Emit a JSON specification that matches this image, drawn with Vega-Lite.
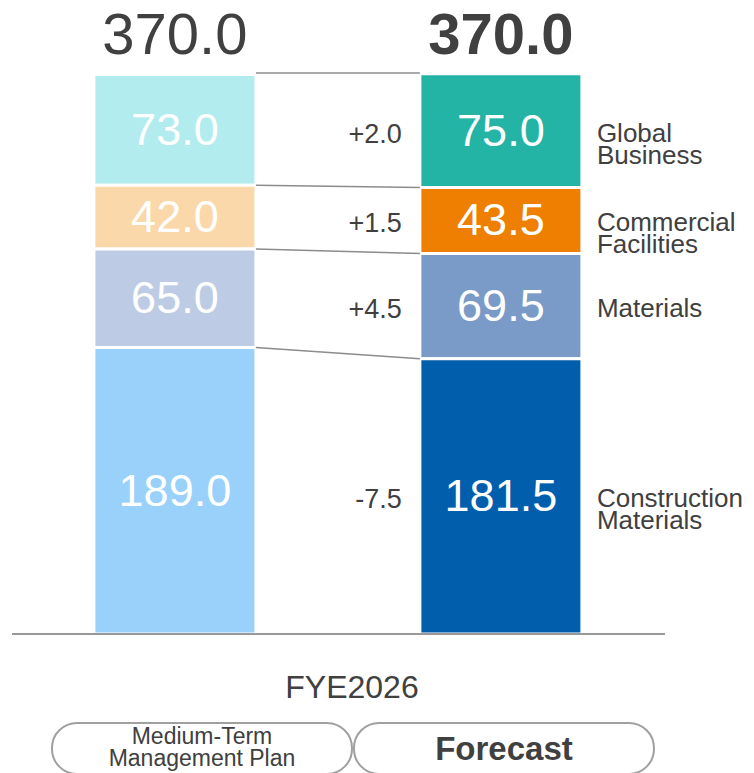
{
  "$schema": "https://vega.github.io/schema/vega-lite/v6.json",
  "width": 754,
  "height": 773,
  "autosize": {"type": "none"},
  "padding": 0,
  "background": "white",
  "config": {"view": {"stroke": null}, "axis": {"disable": true}},
  "datasets": {
    "segs": [
      {"bar": "Plan", "category": "Global Business", "value": 73.0, "order": 4},
      {"bar": "Plan", "category": "Commercial Facilities", "value": 42.0, "order": 3},
      {"bar": "Plan", "category": "Materials", "value": 65.0, "order": 2},
      {"bar": "Plan", "category": "Construction Materials", "value": 189.0, "order": 1},
      {"bar": "Forecast", "category": "Global Business", "value": 75.0, "order": 4, "diff": "+2.0", "label": "Global\nBusiness"},
      {"bar": "Forecast", "category": "Commercial Facilities", "value": 43.5, "order": 3, "diff": "+1.5", "label": "Commercial\nFacilities"},
      {"bar": "Forecast", "category": "Materials", "value": 69.5, "order": 2, "diff": "+4.5", "label": "Materials"},
      {"bar": "Forecast", "category": "Construction Materials", "value": 181.5, "order": 1, "diff": "-7.5", "label": "Construction\nMaterials"}
    ],
    "totals": [
      {"bar": "Plan", "total": 370.0},
      {"bar": "Forecast", "total": 370.0}
    ],
    "links": [
      {"category": "Global Business", "plan_top": 370.0, "forecast_top": 370.0},
      {"category": "Commercial Facilities", "plan_top": 296.0, "forecast_top": 294.5},
      {"category": "Materials", "plan_top": 254.0, "forecast_top": 251.0},
      {"category": "Construction Materials", "plan_top": 189.0, "forecast_top": 181.5}
    ],
    "pills": [
      {"bar": "Plan", "name": "Medium-Term\nManagement Plan"},
      {"bar": "Forecast", "name": "Forecast"}
    ],
    "period": [{"label": "FYE2026"}]
  },
  "layer": [
    {
      "data": {"name": "segs"},
      "transform": [
        {"calculate": "datum.bar + '|' + datum.category", "as": "key"},
        {"stack": "value", "groupby": ["bar"], "sort": [{"field": "order", "order": "ascending"}], "as": ["v0", "v1"]},
        {"calculate": "(datum.v0 + datum.v1) / 2", "as": "mid"}
      ],
      "layer": [
        {
          "mark": {"type": "rect", "stroke": "white", "strokeWidth": 3},
          "encoding": {
            "x": {"field": "bar", "type": "nominal", "scale": {"type": "band", "domain": ["Plan", "Forecast"], "paddingInner": 0.503, "paddingOuter": 0.408, "align": 0.353, "round": false}},
            "y": {"field": "v0", "type": "quantitative", "scale": {"domain": [-91.68, 418.15], "nice": false, "zero": false}},
            "y2": {"field": "v1"},
            "color": {
              "field": "key", "type": "nominal", "legend": null,
              "scale": {
                "domain": ["Plan|Global Business", "Plan|Commercial Facilities", "Plan|Materials", "Plan|Construction Materials", "Forecast|Global Business", "Forecast|Commercial Facilities", "Forecast|Materials", "Forecast|Construction Materials"],
                "range": ["#b2ecee", "#fbd8aa", "#bdcce4", "#99d1fb", "#24b4a6", "#ef7f00", "#7a9bc8", "#015eac"]
              }
            }
          }
        },
        {
          "mark": {"type": "text", "font": "Liberation Sans", "fontSize": 45, "color": "white", "align": "center", "baseline": "middle", "dy": 1},
          "encoding": {
            "x": {"field": "bar", "type": "nominal", "scale": {"type": "band", "domain": ["Plan", "Forecast"], "paddingInner": 0.503, "paddingOuter": 0.408, "align": 0.353, "round": false}},
            "y": {"field": "mid", "type": "quantitative", "scale": {"domain": [-91.68, 418.15], "nice": false, "zero": false}},
            "text": {"field": "value", "type": "quantitative", "format": ".1f"}
          }
        },
        {
          "transform": [{"filter": "datum.bar === 'Forecast'"}],
          "mark": {"type": "text", "font": "Liberation Sans", "fontSize": 27, "color": "#404040", "align": "right", "baseline": "middle", "dx": -18, "dy": 4},
          "encoding": {
            "x": {"field": "bar", "type": "nominal", "bandPosition": 0, "scale": {"type": "band", "domain": ["Plan", "Forecast"], "paddingInner": 0.503, "paddingOuter": 0.408, "align": 0.353, "round": false}},
            "y": {"field": "mid", "type": "quantitative", "scale": {"domain": [-91.68, 418.15], "nice": false, "zero": false}},
            "text": {"field": "diff", "type": "nominal"}
          }
        },
        {
          "transform": [{"filter": "datum.bar === 'Forecast'"}],
          "mark": {"type": "text", "font": "Liberation Sans", "fontSize": 26, "lineHeight": 22, "lineBreak": "\n", "color": "#404040", "align": "left", "baseline": "middle", "dx": 15, "dy": 3},
          "encoding": {
            "x": {"field": "bar", "type": "nominal", "bandPosition": 1, "scale": {"type": "band", "domain": ["Plan", "Forecast"], "paddingInner": 0.503, "paddingOuter": 0.408, "align": 0.353, "round": false}},
            "y": {"field": "mid", "type": "quantitative", "scale": {"domain": [-91.68, 418.15], "nice": false, "zero": false}},
            "text": {"field": "label", "type": "nominal"}
          }
        }
      ]
    },
    {
      "data": {"name": "links"},
      "mark": {"type": "rule", "color": "#8c8c8c", "strokeWidth": 1.5},
      "encoding": {
        "x": {"datum": "Plan", "type": "nominal", "bandPosition": 1, "scale": {"type": "band", "domain": ["Plan", "Forecast"], "paddingInner": 0.503, "paddingOuter": 0.408, "align": 0.353, "round": false}},
        "x2": {"datum": "Forecast", "bandPosition": 0},
        "y": {"field": "plan_top", "type": "quantitative", "scale": {"domain": [-91.68, 418.15], "nice": false, "zero": false}},
        "y2": {"field": "forecast_top"}
      }
    },
    {
      "data": {"name": "totals"},
      "transform": [{"filter": "datum.bar === 'Plan'"}],
      "mark": {"type": "text", "font": "Liberation Sans", "fontSize": 58, "color": "#404040", "align": "center", "baseline": "middle", "dy": -36},
      "encoding": {
        "x": {"field": "bar", "type": "nominal", "scale": {"type": "band", "domain": ["Plan", "Forecast"], "paddingInner": 0.503, "paddingOuter": 0.408, "align": 0.353, "round": false}},
        "y": {"field": "total", "type": "quantitative", "scale": {"domain": [-91.68, 418.15], "nice": false, "zero": false}},
        "text": {"field": "total", "type": "quantitative", "format": ".1f"}
      }
    },
    {
      "data": {"name": "totals"},
      "transform": [{"filter": "datum.bar === 'Forecast'"}],
      "mark": {"type": "text", "font": "Liberation Sans", "fontSize": 58, "fontWeight": "bold", "color": "#404040", "align": "center", "baseline": "middle", "dy": -36},
      "encoding": {
        "x": {"field": "bar", "type": "nominal", "scale": {"type": "band", "domain": ["Plan", "Forecast"], "paddingInner": 0.503, "paddingOuter": 0.408, "align": 0.353, "round": false}},
        "y": {"field": "total", "type": "quantitative", "scale": {"domain": [-91.68, 418.15], "nice": false, "zero": false}},
        "text": {"field": "total", "type": "quantitative", "format": ".1f"}
      }
    },
    {
      "layer": [
        {
          "data": {"name": "period"},
          "mark": {"type": "rule", "color": "#999999", "strokeWidth": 2, "xOffset": -40, "x2Offset": 11},
          "encoding": {
            "x": {"datum": "Plan", "type": "nominal", "bandPosition": 0, "scale": {"type": "band", "domain": ["Plan", "Forecast"], "paddingInner": 0.0066, "paddingOuter": 0.2517, "align": 0.342, "round": false}},
            "x2": {"datum": "Forecast", "bandPosition": 1},
            "y": {"datum": 0, "type": "quantitative", "scale": {"domain": [-91.68, 418.15], "nice": false, "zero": false}}
          }
        },
        {
          "data": {"name": "period"},
          "mark": {"type": "text", "font": "Liberation Sans", "fontSize": 32, "color": "#404040", "align": "center", "baseline": "middle"},
          "encoding": {
            "x": {"datum": "Plan", "type": "nominal", "bandPosition": 1, "scale": {"type": "band", "domain": ["Plan", "Forecast"], "paddingInner": 0.0066, "paddingOuter": 0.2517, "align": 0.342, "round": false}},
            "y": {"datum": -35.6, "type": "quantitative", "scale": {"domain": [-91.68, 418.15], "nice": false, "zero": false}},
            "text": {"field": "label", "type": "nominal"}
          }
        },
        {
          "data": {"name": "pills"},
          "mark": {"type": "bar", "fill": "white", "stroke": "#a0a0a0", "strokeWidth": 2, "cornerRadius": 25},
          "encoding": {
            "x": {"field": "bar", "type": "nominal", "scale": {"type": "band", "domain": ["Plan", "Forecast"], "paddingInner": 0.0066, "paddingOuter": 0.2517, "align": 0.342, "round": false}},
            "y": {"datum": -58.7, "type": "quantitative", "scale": {"domain": [-91.68, 418.15], "nice": false, "zero": false}},
            "y2": {"datum": -92.3}
          }
        },
        {
          "data": {"name": "pills"},
          "transform": [{"filter": "datum.bar === 'Plan'"}],
          "mark": {"type": "text", "font": "Liberation Sans", "fontSize": 23, "lineHeight": 22, "lineBreak": "\n", "color": "#404040", "align": "center", "baseline": "middle"},
          "encoding": {
            "x": {"field": "bar", "type": "nominal", "scale": {"type": "band", "domain": ["Plan", "Forecast"], "paddingInner": 0.0066, "paddingOuter": 0.2517, "align": 0.342, "round": false}},
            "y": {"datum": -67.93, "type": "quantitative", "scale": {"domain": [-91.68, 418.15], "nice": false, "zero": false}},
            "text": {"field": "name", "type": "nominal"}
          }
        },
        {
          "data": {"name": "pills"},
          "transform": [{"filter": "datum.bar === 'Forecast'"}],
          "mark": {"type": "text", "font": "Liberation Sans", "fontSize": 33, "fontWeight": "bold", "color": "#404040", "align": "center", "baseline": "middle"},
          "encoding": {
            "x": {"field": "bar", "type": "nominal", "scale": {"type": "band", "domain": ["Plan", "Forecast"], "paddingInner": 0.0066, "paddingOuter": 0.2517, "align": 0.342, "round": false}},
            "y": {"datum": -76.5, "type": "quantitative", "scale": {"domain": [-91.68, 418.15], "nice": false, "zero": false}},
            "text": {"field": "name", "type": "nominal"}
          }
        }
      ]
    }
  ],
  "resolve": {"scale": {"x": "independent"}}
}
